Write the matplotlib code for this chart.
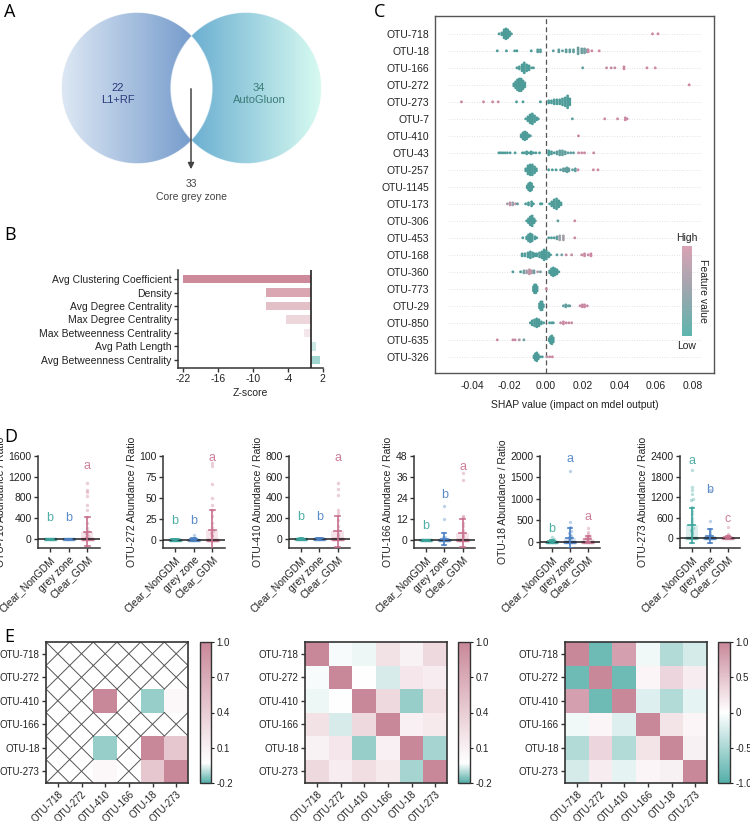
import numpy as np
import matplotlib
matplotlib.use('Agg')
import matplotlib.pyplot as plt
from matplotlib.colors import LinearSegmentedColormap, Normalize, to_rgb
import matplotlib.colorbar as mcolorbar

plt.rcParams['font.family'] = ['Liberation Sans', 'DejaVu Sans']

# ---------------- DATA ----------------
# Panel A (Venn)
venn_counts = [22, 34]
venn_labels = ['L1+RF', 'AutoGluon']
core_count = 33
core_label = 'Core grey zone'

# Panel B
net_metrics = ['Avg Clustering Coefficient', 'Density', 'Avg Degree Centrality',
               'Max Degree Centrality', 'Max Betweenness Centrality',
               'Avg Path Length', 'Avg Betweenness Centrality']
net_z = [-22.0, -7.7, -7.7, -4.3, -1.2, 0.8, 1.6]
net_ticks = [-22, -16, -10, -4, 2]

# Panel C (SHAP): entries (shap value, number of samples, feature value 0..1)
shap_features = ['OTU-718', 'OTU-18', 'OTU-166', 'OTU-272', 'OTU-273', 'OTU-7', 'OTU-410',
                 'OTU-43', 'OTU-257', 'OTU-1145', 'OTU-173', 'OTU-306', 'OTU-453', 'OTU-168',
                 'OTU-360', 'OTU-773', 'OTU-29', 'OTU-850', 'OTU-635', 'OTU-326']
shap_718 = [(-0.0255, 1, .1), (-0.024, 2, .1), (-0.0228, 5, .1), (-0.0218, 6, .1), (-0.0208, 5, .1),
            (-0.0198, 3, .1), (-0.0188, 1, .1), (0.058, 1, .95), (0.061, 1, .95)]
shap_18 = [(-0.0265, 1, .1), (-0.0215, 1, .1), (-0.017, 1, .1), (-0.0158, 1, .1), (-0.008, 1, .1),
           (-0.0045, 2, .15), (-0.003, 2, .15), (0.004, 1, .2), (0.007, 2, .2), (0.009, 1, .2),
           (0.011, 2, .2), (0.013, 2, .2), (0.015, 2, .2), (0.0175, 4, .25), (0.0195, 3, .25),
           (0.021, 3, .3), (0.0225, 2, .35), (0.023, 2, .9), (0.025, 1, .9), (0.029, 1, .95)]
shap_166 = [(-0.0158, 1, .1), (-0.0145, 2, .1), (-0.013, 4, .1), (-0.0118, 6, .1), (-0.0105, 4, .1),
            (-0.0092, 3, .1), (-0.0078, 1, .1), (-0.0068, 1, .1), (0.020, 1, .2), (0.033, 1, .85),
            (0.0355, 1, .85), (0.0375, 1, .85), (0.0425, 2, .9), (0.055, 1, .95), (0.0595, 1, .95)]
shap_272 = [(-0.0175, 2, .1), (-0.0165, 4, .1), (-0.0155, 6, .1), (-0.0145, 7, .1), (-0.0135, 7, .1),
            (-0.0125, 5, .1), (-0.0115, 3, .1), (0.078, 1, .95)]
shap_273 = [(-0.046, 1, .9), (-0.034, 1, .9), (-0.029, 1, .9), (-0.026, 1, .9), (-0.016, 1, .1),
            (-0.0125, 1, .1), (-0.003, 1, .1), (0.0015, 2, .1), (0.003, 2, .1), (0.0045, 3, .1),
            (0.006, 3, .1), (0.0075, 3, .1), (0.009, 4, .1), (0.0105, 5, .1), (0.0118, 7, .1),
            (0.013, 4, .1)]
shap_7 = [(-0.011, 1, .1), (-0.0098, 3, .1), (-0.0086, 5, .1), (-0.0074, 6, .1), (-0.0062, 4, .1),
          (-0.005, 2, .1), (-0.0042, 1, .1), (0.0144, 1, .2), (0.032, 1, .9), (0.039, 1, .9),
          (0.0432, 2, .9), (0.0442, 1, .9)]
shap_410 = [(-0.0135, 2, .1), (-0.0125, 4, .1), (-0.0115, 5, .1), (-0.0105, 4, .1), (-0.0095, 2, .1),
            (-0.0085, 1, .1), (0.0177, 1, .9)]
shap_43 = [(-0.0256, 1, .1), (-0.0245, 1, .1), (-0.0234, 1, .1), (-0.0222, 1, .1), (-0.021, 1, .1),
           (-0.0195, 1, .1), (-0.0168, 1, .1), (-0.0128, 1, .1), (-0.0118, 1, .1), (-0.0105, 2, .1),
           (-0.0092, 1, .1), (-0.008, 2, .1), (-0.0068, 1, .1), (-0.0055, 1, .1), (-0.0035, 1, .1),
           (0.0015, 3, .1), (0.003, 2, .1), (0.0045, 1, .1), (0.006, 2, .15), (0.0075, 3, .2),
           (0.009, 3, .2), (0.0105, 2, .2), (0.012, 1, .2), (0.0135, 1, .2), (0.015, 1, .2),
           (0.0178, 1, .9), (0.0195, 1, .9), (0.021, 1, .9), (0.026, 1, .9)]
shap_257 = [(-0.011, 2, .1), (-0.0098, 5, .1), (-0.0086, 6, .1), (-0.0074, 6, .1), (-0.0062, 4, .1),
            (-0.0052, 2, .1), (0.0015, 1, .1), (0.0035, 1, .1), (0.0055, 1, .1), (0.008, 1, .2),
            (0.0095, 2, .2), (0.0105, 2, .2), (0.0115, 3, .2), (0.0125, 2, .2), (0.0145, 1, .2),
            (0.016, 2, .2), (0.0175, 1, .9), (0.0258, 1, .9), (0.0283, 1, .9)]
shap_1145 = [(-0.0102, 2, .1), (-0.0094, 4, .1), (-0.0086, 5, .1), (-0.0078, 4, .1), (-0.007, 1, .1)]
shap_173 = [(-0.021, 1, .6), (-0.0195, 2, .8), (-0.018, 2, .5), (-0.0165, 1, .8), (-0.0155, 1, .2),
            (-0.011, 1, .1), (-0.0095, 2, .1), (-0.0078, 3, .1), (-0.0068, 1, .1), (-0.003, 1, .1),
            (-0.0022, 1, .1), (0.002, 1, .1), (0.0032, 3, .1), (0.0045, 5, .1), (0.0058, 6, .1),
            (0.007, 4, .1), (0.0082, 2, .1)]
shap_306 = [(-0.0105, 1, .1), (-0.0095, 3, .1), (-0.0085, 5, .1), (-0.0075, 6, .1), (-0.0065, 3, .1),
            (-0.0058, 1, .1), (0.0065, 1, .2), (0.0157, 1, .9)]
shap_453 = [(-0.0126, 1, .1), (-0.0105, 2, .1), (-0.0095, 4, .1), (-0.0085, 5, .1), (-0.0075, 4, .1),
            (-0.006, 2, .1), (-0.005, 1, .1), (0.0015, 1, .1), (0.003, 1, .1), (0.0045, 1, .1),
            (0.006, 2, .2), (0.0075, 3, .5), (0.0095, 3, .6), (0.0157, 1, .9)]
shap_168 = [(-0.013, 2, .1), (-0.0115, 2, .1), (-0.0098, 3, .1), (-0.0085, 4, .1), (-0.0072, 3, .1),
            (-0.006, 2, .1), (-0.005, 2, .1), (-0.0035, 3, .1), (-0.0022, 4, .1), (-0.001, 6, .1),
            (0.0002, 5, .1), (0.0015, 3, .1), (0.0025, 1, .1), (0.006, 1, .2), (0.0086, 1, .3),
            (0.011, 1, .85), (0.014, 1, .85), (0.0195, 1, .9), (0.021, 2, .9), (0.023, 1, .9),
            (0.0245, 2, .95)]
shap_360 = [(-0.018, 1, .1), (-0.0138, 1, .1), (-0.012, 2, .3), (-0.0105, 2, .6), (-0.009, 3, .8),
            (-0.0078, 2, .7), (-0.0065, 2, .3), (-0.0045, 1, .7), (-0.003, 1, .3), (0.002, 2, .1),
            (0.003, 4, .1), (0.004, 5, .1), (0.005, 4, .1), (0.006, 3, .1), (0.007, 1, .1)]
shap_773 = [(-0.0068, 3, .1), (-0.0062, 5, .1), (-0.0055, 5, .1), (-0.0048, 3, .1), (0.0002, 1, .9)]
shap_29 = [(-0.0035, 3, .1), (-0.0028, 5, .1), (-0.0021, 5, .1), (-0.0014, 2, .1), (0.0095, 1, .2),
           (0.0108, 2, .2), (0.0122, 1, .2), (0.013, 1, .2), (0.0186, 1, .9), (0.0198, 2, .9),
           (0.021, 2, .9), (0.0225, 1, .9)]
shap_850 = [(-0.0085, 1, .1), (-0.0075, 3, .1), (-0.0062, 4, .1), (-0.005, 5, .1), (-0.0038, 4, .1),
            (-0.0025, 2, .1), (-0.0012, 1, .1), (0.002, 1, .1), (0.0032, 1, .1), (0.004, 1, .1),
            (0.008, 1, .85), (0.0095, 2, .9), (0.011, 1, .9), (0.0125, 1, .9), (0.014, 1, .9)]
shap_635 = [(-0.0265, 1, .9), (-0.018, 1, .9), (-0.0168, 1, .9), (-0.0145, 1, .7), (-0.012, 1, .3),
            (0.0018, 2, .1), (0.0025, 4, .1), (0.0032, 5, .1), (0.004, 3, .1)]
shap_326 = [(-0.0065, 2, .1), (-0.0058, 4, .1), (-0.005, 5, .1), (-0.0042, 3, .1), (-0.0032, 1, .1),
            (-0.002, 1, .1), (0.0005, 1, .8), (0.002, 1, .9), (0.0035, 1, .9)]
shap_clusters = [shap_718, shap_18, shap_166, shap_272, shap_273, shap_7, shap_410, shap_43,
                 shap_257, shap_1145, shap_173, shap_306, shap_453, shap_168, shap_360, shap_773,
                 shap_29, shap_850, shap_635, shap_326]
shap_ticks = [-0.04, -0.02, 0.00, 0.02, 0.04, 0.06, 0.08]

# Panel D
groups = ['Clear_NonGDM', 'grey zone', 'Clear_GDM']
d_otus = ['OTU-718', 'OTU-272', 'OTU-410', 'OTU-166', 'OTU-18', 'OTU-273']
d_means = [[2, 3, 140], [0.2, 0.5, 12], [1, 2, 70], [0.1, 0.5, 4], [20, 90, 70], [370, 60, 20]]
d_sds = [[3, 5, 285], [0.3, 1, 23], [2, 4, 150], [0.2, 3.5, 8], [25, 230, 70], [510, 200, 30]]
d_zero_counts = [[30, 24, 30], [30, 24, 30], [30, 24, 30], [30, 24, 30], [30, 24, 24], [14, 24, 24]]
d_points = [
    [[], [], [1070, 940, 900, 830, 650, 560, 430, 300, 220, 160, 120, 90, 60, 40]],
    [[], [5], [92, 88, 67, 50, 42, 35, 28, 20, 15, 10, 8, 6, 4]],
    [[], [], [540, 480, 420, 280, 250, 180, 120, 80, 50, 30]],
    [[], [19.5, 12, 2, 1.5], [38.5, 34.5, 14, 13, 10, 8, 6, 4, 3, 2]],
    [[110, 60, 40, 30], [1650, 460, 330, 250, 200, 160, 120, 100, 80, 60],
     [320, 220, 180, 140, 120, 100, 80, 60]],
    [[2000, 1480, 1420, 1280, 1150, 1100, 900, 800, 700, 600, 500, 400, 300, 250, 200, 150, 100],
     [1400, 500, 250, 150, 100], [320, 120, 80]],
]
d_letters = [['b', 'b', 'a'], ['b', 'b', 'a'], ['b', 'b', 'a'], ['b', 'b', 'a'],
             ['b', 'a', 'a'], ['a', 'b', 'c']]
d_letter_y = [[400, 400, 1400], [22, 22, 98], [210, 210, 780], [8, 25.5, 42],
              [300, 1930, 570], [2250, 1400, 570]]
d_ylims = [(-175, 1600), (-10, 100), (-90, 800), (-4.5, 48), (-150, 2000), (-290, 2400)]
d_yticks = [[0, 400, 800, 1200, 1600], [0, 25, 50, 75, 100], [0, 200, 400, 600, 800],
            [0, 12, 24, 36, 48], [0, 500, 1000, 1500, 2000], [0, 600, 1200, 1800, 2400]]

# Panel E
nan = np.nan
e_otus = ['OTU-718', 'OTU-272', 'OTU-410', 'OTU-166', 'OTU-18', 'OTU-273']
e_corr1 = [[nan, nan, nan, nan, nan, nan],
           [nan, nan, nan, nan, nan, nan],
           [nan, nan, 1.0, nan, -0.13, 0.03],
           [nan, nan, nan, nan, nan, nan],
           [nan, nan, -0.13, nan, 1.0, 0.45],
           [nan, nan, 0.03, nan, 0.45, 1.0]]
e_corr2 = [[1.0, -0.04, -0.05, 0.22, 0.08, 0.30],
           [-0.04, 1.0, -0.02, -0.07, 0.18, 0.12],
           [-0.05, -0.02, 1.0, 0.30, -0.13, 0.25],
           [0.22, -0.07, 0.30, 1.0, 0.10, 0.15],
           [0.08, 0.18, -0.13, 0.10, 1.0, -0.12],
           [0.30, 0.12, 0.25, 0.15, -0.12, 1.0]]
e_corr3 = [[1.0, -0.85, 0.80, -0.08, -0.45, -0.25],
           [-0.85, 1.0, -0.85, 0.08, 0.35, 0.15],
           [0.80, -0.85, 1.0, -0.20, -0.45, -0.15],
           [-0.08, 0.08, -0.20, 1.0, 0.22, 0.08],
           [-0.45, 0.35, -0.45, 0.22, 1.0, 0.12],
           [-0.25, 0.15, -0.15, 0.08, 0.12, 1.0]]
e_cbar_ticks12 = [-0.2, 0.1, 0.4, 0.7, 1.0]
e_cbar_ticks3 = [-1.0, -0.5, 0, 0.5, 1.0]

# ---------------- FIGURE ----------------
W, H = 750, 821
fig = plt.figure(figsize=(W / 100, H / 100), dpi=100)


def rect(x0, y0, x1, y1):
    return [x0 / W, 1 - y1 / H, (x1 - x0) / W, (y1 - y0) / H]


def panel_label(x, y, s):
    fig.text(x / W, 1 - y / H, s, fontsize=13, va='top', ha='left',
             family=['Open Sans', 'DejaVu Sans'])


FS = 7.5
TXT = '#222222'

# ---------- Panel A ----------
axA = fig.add_axes(rect(0, 0, 370, 215))
axA.set_xlim(0, 370)
axA.set_ylim(215, 0)
axA.axis('off')
nx, ny = 1110, 645
xs = np.linspace(0, 370, nx)
ys = np.linspace(0, 215, ny)
X, Y = np.meshgrid(xs, ys)
r = 75.5
c1 = (137, 88)
c2 = (246, 88)
d1 = np.hypot(X - c1[0], Y - c1[1])
d2 = np.hypot(X - c2[0], Y - c2[1])
a1 = np.clip((r - d1) * 1.5 + 0.5, 0, 1)
a2 = np.clip((r - d2) * 1.5 + 0.5, 0, 1)
t1 = np.clip((X - (c1[0] - r)) / (2 * r), 0, 1)[..., None]
t2 = np.clip((X - (c2[0] - r)) / (2 * r), 0, 1)[..., None]
L = np.array(to_rgb('#dde8f4')) * (1 - t1) + np.array(to_rgb('#6690c6')) * t1
R = np.array(to_rgb('#5aa3cc')) * (1 - t2) + np.array(to_rgb('#d8fbf1')) * t2
A1 = a1[..., None]
A2 = a2[..., None]
prem = L * A1 * (1 - A2) + R * A2 * (1 - A1) + np.ones(3) * A1 * A2
alpha = 1 - (1 - a1) * (1 - a2)
rgb = np.where(alpha[..., None] > 0, prem / np.maximum(alpha[..., None], 1e-6), 1)
img = np.dstack([rgb, alpha])
axA.imshow(img, extent=(0, 370, 215, 0), interpolation='bilinear', zorder=1)
axA.text(118, 88, str(venn_counts[0]), ha='center', va='center', fontsize=8, color='#2b3a7a', zorder=3)
axA.text(118, 100, venn_labels[0], ha='center', va='center', fontsize=8, color='#2b3a7a', zorder=3)
axA.text(259, 88, str(venn_counts[1]), ha='center', va='center', fontsize=8, color='#3b7b78', zorder=3)
axA.text(259, 100, venn_labels[1], ha='center', va='center', fontsize=8, color='#3b7b78', zorder=3)
axA.annotate('', xy=(191, 172), xytext=(191, 86),
             arrowprops=dict(arrowstyle='-|>', color='#444444', lw=1.1, mutation_scale=9), zorder=4)
axA.text(191, 184, str(core_count), ha='center', va='center', fontsize=FS, color='#444444')
axA.text(191, 197, core_label, ha='center', va='center', fontsize=FS, color='#444444')
panel_label(4, 3, 'A')

# ---------- Panel B ----------
axB = fig.add_axes(rect(178, 270, 323, 368))
b_colors = ['#cc8a9b', '#d9a6b2', '#e3c0c8', '#edd6dc', '#f4e6ea', '#c9e9e5', '#a2d6d0']
yB = np.arange(len(net_metrics))
axB.barh(yB, net_z, height=0.62, color=b_colors, zorder=2)
axB.axvline(0, color='#222222', lw=1.2, zorder=3)
axB.set_yticks(yB)
axB.set_yticklabels(net_metrics, fontsize=FS, color=TXT)
axB.set_ylim(6.6, -0.67)
axB.set_xlim(-22.9, 2.05)
axB.set_xticks(net_ticks)
axB.set_xticklabels([str(t) for t in net_ticks], fontsize=FS, color=TXT)
axB.set_xlabel('Z-score', fontsize=FS, color=TXT, labelpad=3)
for s in ['top', 'right']:
    axB.spines[s].set_visible(False)
for s in ['left', 'bottom']:
    axB.spines[s].set_linewidth(1.1)
    axB.spines[s].set_color('#333333')
axB.tick_params(axis='both', length=3, width=1, color='#333333', pad=1.5)
panel_label(4, 226, 'B')

# ---------- Panel C ----------
axC = fig.add_axes(rect(435, 16, 714, 373))
pt_cmap = LinearSegmentedColormap.from_list('pt', ['#3a9a94', '#9aa3ac', '#d6839f'])
bar_cmap = LinearSegmentedColormap.from_list('bar', ['#5db5ad', '#9ca6ae', '#d9a3b4'])
nrow = len(shap_features)
axC.hlines(np.arange(nrow), -0.053, 0.084, colors='#d8d8d8', linestyles=(0, (1, 2)), lw=0.6, zorder=0)
axC.axvline(0, color='#555555', lw=0.9, ls=(0, (4, 2.5)), zorder=1)
px_list, py_list, pc_list = [], [], []
for i, clusters in enumerate(shap_clusters):
    for (sv, n, fv) in clusters:
        offs = (np.arange(n) - (n - 1) / 2) * 0.115
        for o in offs:
            px_list.append(sv)
            py_list.append(i + o)
            pc_list.append(fv)
axC.scatter(px_list, py_list, c=pc_list, cmap=pt_cmap, vmin=0, vmax=1, s=4.2, linewidths=0, zorder=3)
axC.set_xlim(-0.0604, 0.0915)
axC.set_ylim(nrow - 0.05, -1.05)
axC.set_yticks(np.arange(nrow))
axC.set_yticklabels(shap_features, fontsize=FS, color=TXT)
axC.set_xticks(shap_ticks)
axC.set_xticklabels(['%.2f' % t for t in shap_ticks], fontsize=FS, color=TXT)
axC.tick_params(axis='both', length=0, pad=4)
axC.tick_params(axis='x', pad=6)
axC.set_xlabel('SHAP value (impact on mdel output)', fontsize=FS, color=TXT, labelpad=6)
for s in axC.spines.values():
    s.set_linewidth(1.0)
    s.set_color('#555555')
caxC = fig.add_axes(rect(682, 246, 692, 336))
cbC = mcolorbar.ColorbarBase(caxC, cmap=bar_cmap, norm=Normalize(0, 1), orientation='vertical')
cbC.outline.set_visible(False)
cbC.set_ticks([])
fig.text(687 / W, 1 - 238 / H, 'High', ha='center', va='center', fontsize=FS, color=TXT)
fig.text(687 / W, 1 - 346 / H, 'Low', ha='center', va='center', fontsize=FS, color=TXT)
fig.text(703 / W, 1 - 291 / H, 'Feature value', ha='center', va='center', fontsize=FS,
         color=TXT, rotation=270)
panel_label(374, 3, 'C')

# ---------- Panel D ----------
g_colors = ['#3aa59c', '#4a80c4', '#c8708e']
d_left = [38, 163, 289, 414, 540, 680]
d_right = [100, 225, 350, 475, 600, 740]
for k in range(6):
    ax = fig.add_axes(rect(d_left[k], 456, d_right[k], 548))
    y0, y1 = d_ylims[k]
    ppu = 92.0 / (y1 - y0)
    for g in range(3):
        col = g_colors[g]
        m = d_means[k][g]
        sd = d_sds[k][g]
        ax.bar(g, m, width=0.66, color=col, alpha=0.18, lw=0, zorder=1)
        vals = sorted([0.0] * d_zero_counts[k][g] + list(d_points[k][g]))
        vals = np.array(vals)
        bins = np.round(vals * ppu / 2.4).astype(int)
        xs_pts, ys_pts = [], []
        for b in np.unique(bins):
            sel = vals[bins == b]
            nk = len(sel)
            dx = 0.0 if nk == 1 else min(0.1, 0.6 / (nk - 1))
            offs = (np.arange(nk) - (nk - 1) / 2) * dx
            xs_pts.extend(g + offs)
            ys_pts.extend(sel)
        ax.scatter(xs_pts, ys_pts, s=6, color=col, alpha=0.35, linewidths=0, zorder=2)
        ax.plot([g, g], [m - sd, m + sd], color=col, lw=1.2, zorder=4)
        ax.plot([g - 0.12, g + 0.12], [m + sd, m + sd], color=col, lw=1.2, zorder=4)
        ax.plot([g - 0.12, g + 0.12], [m - sd, m - sd], color=col, lw=1.2, zorder=4)
        ax.plot([g - 0.2, g + 0.2], [m, m], color=col, lw=1.2, zorder=4)
        ax.text(g, d_letter_y[k][g], d_letters[k][g], ha='center', va='center',
                fontsize=9, color=col, alpha=0.9)
    ax.axhline(0, color='#222222', lw=1.1, zorder=3)
    ax.set_xlim(-0.65, 2.68)
    ax.set_ylim(y0, y1)
    ax.set_yticks(d_yticks[k])
    ax.set_yticklabels([str(t) for t in d_yticks[k]], fontsize=FS, color=TXT)
    ax.set_xticks([0, 1, 2])
    ax.set_xticklabels(groups, fontsize=FS, color=TXT, rotation=45, ha='right',
                       rotation_mode='anchor')
    ax.set_ylabel(d_otus[k] + ' Abundance / Ratio', fontsize=FS, color=TXT, labelpad=2)
    for s in ['top', 'right']:
        ax.spines[s].set_visible(False)
    for s in ['left', 'bottom']:
        ax.spines[s].set_linewidth(1.1)
        ax.spines[s].set_color('#333333')
    ax.tick_params(axis='both', length=3, width=1, color='#333333', pad=1.5)
panel_label(4, 428, 'D')

# ---------- Panel E ----------
cmap12 = LinearSegmentedColormap.from_list('e12', [(0, '#55aea8'), (0.14, '#ffffff'), (1, '#c9889a')])
cmap3 = LinearSegmentedColormap.from_list('e3', [(0, '#55afa9'), (0.5, '#ffffff'), (1, '#c9889a')])
e_specs = [(e_corr1, cmap12, (-0.2, 1.0), e_cbar_ticks12, ['-0.2', '0.1', '0.4', '0.7', '1.0'], 46, 188, 200, 211),
           (e_corr2, cmap12, (-0.2, 1.0), e_cbar_ticks12, ['-0.2', '0.1', '0.4', '0.7', '1.0'], 305, 447, 458, 470),
           (e_corr3, cmap3, (-1.0, 1.0), e_cbar_ticks3, ['-1.0', '-0.5', '0', '0.5', '1.0'], 565, 707, 718, 730)]
for idx, (mat, cm, (vmin, vmax), cticks, clabels, hx0, hx1, cx0, cx1) in enumerate(e_specs):
    ax = fig.add_axes(rect(hx0, 642, hx1, 783))
    M = np.array(mat, dtype=float)
    Mm = np.ma.masked_invalid(M)
    ax.pcolormesh(np.arange(7) - 0.5, np.arange(7) - 0.5, Mm, cmap=cm, vmin=vmin, vmax=vmax,
                  edgecolors='face', linewidth=0, zorder=1)
    nrows = M.shape[0]
    for i in range(nrows):
        for j in range(nrows):
            if np.isnan(M[i, j]):
                ax.plot([j - 0.5, j + 0.5], [i - 0.5, i + 0.5], color='#555555', lw=0.7, zorder=2)
                ax.plot([j - 0.5, j + 0.5], [i + 0.5, i - 0.5], color='#555555', lw=0.7, zorder=2)
    ax.set_xlim(-0.5, 5.5)
    ax.set_ylim(5.5, -0.5)
    ax.set_xticks(range(6))
    ax.set_yticks(range(6))
    ax.set_xticklabels(e_otus, fontsize=7, color=TXT, rotation=45, ha='right', rotation_mode='anchor')
    ax.set_yticklabels(e_otus, fontsize=7, color=TXT)
    ax.tick_params(axis='both', length=3, width=1, color='#333333', pad=1.5)
    for s in ax.spines.values():
        s.set_linewidth(1.2)
        s.set_color('#333333')
    cax = fig.add_axes(rect(cx0, 642, cx1, 783))
    cb = mcolorbar.ColorbarBase(cax, cmap=cm, norm=Normalize(vmin, vmax), orientation='vertical')
    cb.set_ticks(cticks)
    cb.set_ticklabels(clabels)
    cb.outline.set_linewidth(1.0)
    cb.outline.set_edgecolor('#333333')
    cax.tick_params(length=2.5, width=0.8, labelsize=7, colors=TXT, pad=1.5)
panel_label(4, 628, 'E')

fig.savefig('out.png', dpi=100, facecolor='white')
